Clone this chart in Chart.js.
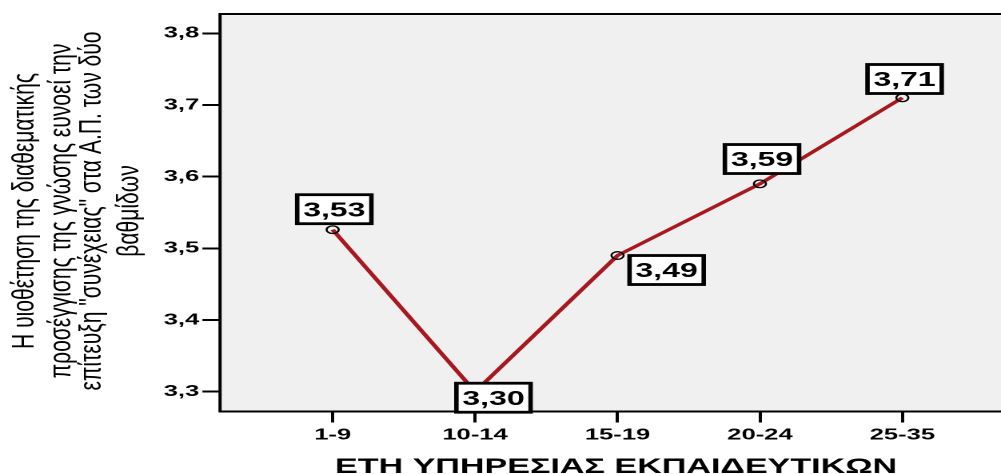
<!DOCTYPE html>
<html>
<head>
<meta charset="utf-8">
<script src="https://cdn.jsdelivr.net/npm/chart.js@4"></script>
<style>
html, body { margin: 0; padding: 0; background: #fff; overflow: hidden; }
/* the reference is an SPSS chart stretched sideways, so draw narrow and stretch */
#wrap { width: 626px; height: 474px; transform: scaleX(1.599); transform-origin: 0 0; }
</style>
</head>
<body>
<div id="wrap"><canvas id="years-chart" width="626" height="474"></canvas></div>
<script>
const categories = ['1-9', '10-14', '15-19', '20-24', '25-35'];
const meanValues = [3.526, 3.30, 3.49, 3.59, 3.71];
const yTickValues = [3.3, 3.4, 3.5, 3.6, 3.7, 3.8];
const xAxisTitle = 'ΕΤΗ ΥΠΗΡΕΣΙΑΣ ΕΚΠΑΙΔΕΥΤΙΚΩΝ';
const yAxisTitleLines = [
  'Η υιοθέτηση της διαθεματικής',
  'προσέγγισης της γνώσης ευνοεί την',
  'επίτευξη "συνέχειας" στα Α.Π. των δύο',
  'βαθμίδων'
];

// where each value box sits relative to its point (unstretched px)
const labelOffsets = [[1, -20.5], [11.5, 6], [30.7, 14.5], [1.3, -24.8], [1.4, -18.8]];

const FONT = "'Liberation Sans', Arial, sans-serif";
Chart.defaults.font.family = FONT;
Chart.defaults.color = '#000';

const fmt = (v, d) => v.toFixed(d).replace('.', ',');

// grey plot background and the frame (no right edge, it runs off the picture)
const plotFrame = {
  id: 'plotFrame',
  beforeDraw(chart) {
    const { ctx, chartArea: a } = chart;
    ctx.save();
    ctx.fillStyle = '#F0F0F0';
    ctx.fillRect(a.left, a.top, chart.width - a.left, a.bottom - a.top);
    ctx.restore();
  },
  beforeDatasetsDraw(chart) {
    const { ctx, chartArea: a } = chart;
    ctx.save();
    ctx.strokeStyle = '#000';
    ctx.lineWidth = 2;
    ctx.beginPath();
    ctx.moveTo(chart.width + 5, a.top);
    ctx.lineTo(a.left, a.top);
    ctx.lineTo(a.left, a.bottom);
    ctx.lineTo(chart.width + 5, a.bottom);
    ctx.stroke();
    ctx.restore();
  }
};

// boxed value labels
const valueBoxes = {
  id: 'valueBoxes',
  afterDatasetsDraw(chart) {
    const ctx = chart.ctx;
    const meta = chart.getDatasetMeta(0);
    ctx.save();
    ctx.font = 'bold 20px ' + FONT;
    ctx.textAlign = 'center';
    ctx.textBaseline = 'alphabetic';
    meta.data.forEach((pt, i) => {
      const cx = pt.x + labelOffsets[i][0];
      const cy = pt.y + labelOffsets[i][1];
      const w = 46.4, h = 29;
      ctx.fillStyle = '#fff';
      ctx.fillRect(cx - w / 2, cy - h / 2, w, h);
      ctx.lineWidth = 2.8;
      ctx.strokeStyle = '#000';
      ctx.strokeRect(cx - w / 2, cy - h / 2, w, h);
      ctx.fillStyle = '#000';
      ctx.fillText(fmt(meanValues[i], 2), cx, cy + 7.2);
    });
    ctx.restore();
  }
};

// axis titles
const axisTitles = {
  id: 'axisTitles',
  afterDraw(chart) {
    const ctx = chart.ctx;
    ctx.save();
    ctx.fillStyle = '#000';
    ctx.textAlign = 'center';
    ctx.textBaseline = 'alphabetic';

    ctx.font = 'bold 21px ' + FONT;
    const xw = ctx.measureText(xAxisTitle).width;
    ctx.save();
    ctx.translate(385.3, 473);
    ctx.scale(351.5 / xw, 1);
    ctx.fillText(xAxisTitle, 0, 0);
    ctx.restore();

    ctx.font = '19px ' + FONT;
    const stretch = 359 / ctx.measureText(yAxisTitleLines[2]).width;
    const baselines = [21, 44, 63, 86.5];
    yAxisTitleLines.forEach((line, i) => {
      ctx.save();
      ctx.translate(baselines[i], 211);
      ctx.rotate(-Math.PI / 2);
      ctx.scale(stretch, 1);
      ctx.fillText(line, 0, 0);
      ctx.restore();
    });
    ctx.restore();
  }
};

const tickGrid = {
  display: true,
  drawOnChartArea: false,
  drawTicks: true,
  tickLength: 11,
  color: '#000',
  lineWidth: 2
};

new Chart(document.getElementById('years-chart'), {
  type: 'line',
  data: {
    datasets: [{
      data: meanValues.map((v, i) => ({ x: i, y: v })),
      borderColor: '#A8191F',
      borderWidth: 3,
      tension: 0,
      pointRadius: 3.8,
      pointBorderColor: '#000',
      pointBorderWidth: 1.3,
      pointBackgroundColor: 'rgba(0,0,0,0)'
    }]
  },
  options: {
    responsive: false,
    animation: false,
    devicePixelRatio: 2,
    layout: { padding: { top: 14, left: 0, right: 0, bottom: 0 } },
    plugins: { legend: { display: false }, tooltip: { enabled: false } },
    scales: {
      x: {
        type: 'linear',
        min: -0.791,
        max: 4.633,
        afterBuildTicks: s => { s.ticks = categories.map((c, i) => ({ value: i })); },
        afterFit: s => { s.height = 62.5; },
        ticks: {
          callback: v => categories[v],
          font: { size: 16, weight: 'bold' },
          padding: 3,
          maxRotation: 0,
          autoSkip: false
        },
        grid: tickGrid,
        border: { display: false }
      },
      y: {
        min: 3.2724,
        max: 3.8269,
        afterBuildTicks: s => { s.ticks = yTickValues.map(v => ({ value: v })); },
        afterFit: s => { s.width = 137.6; },
        ticks: {
          callback: v => fmt(v, 1),
          font: { size: 16, weight: 'bold' },
          padding: 2
        },
        grid: tickGrid,
        border: { display: false }
      }
    }
  },
  plugins: [plotFrame, valueBoxes, axisTitles]
});
</script>
</body>
</html>
